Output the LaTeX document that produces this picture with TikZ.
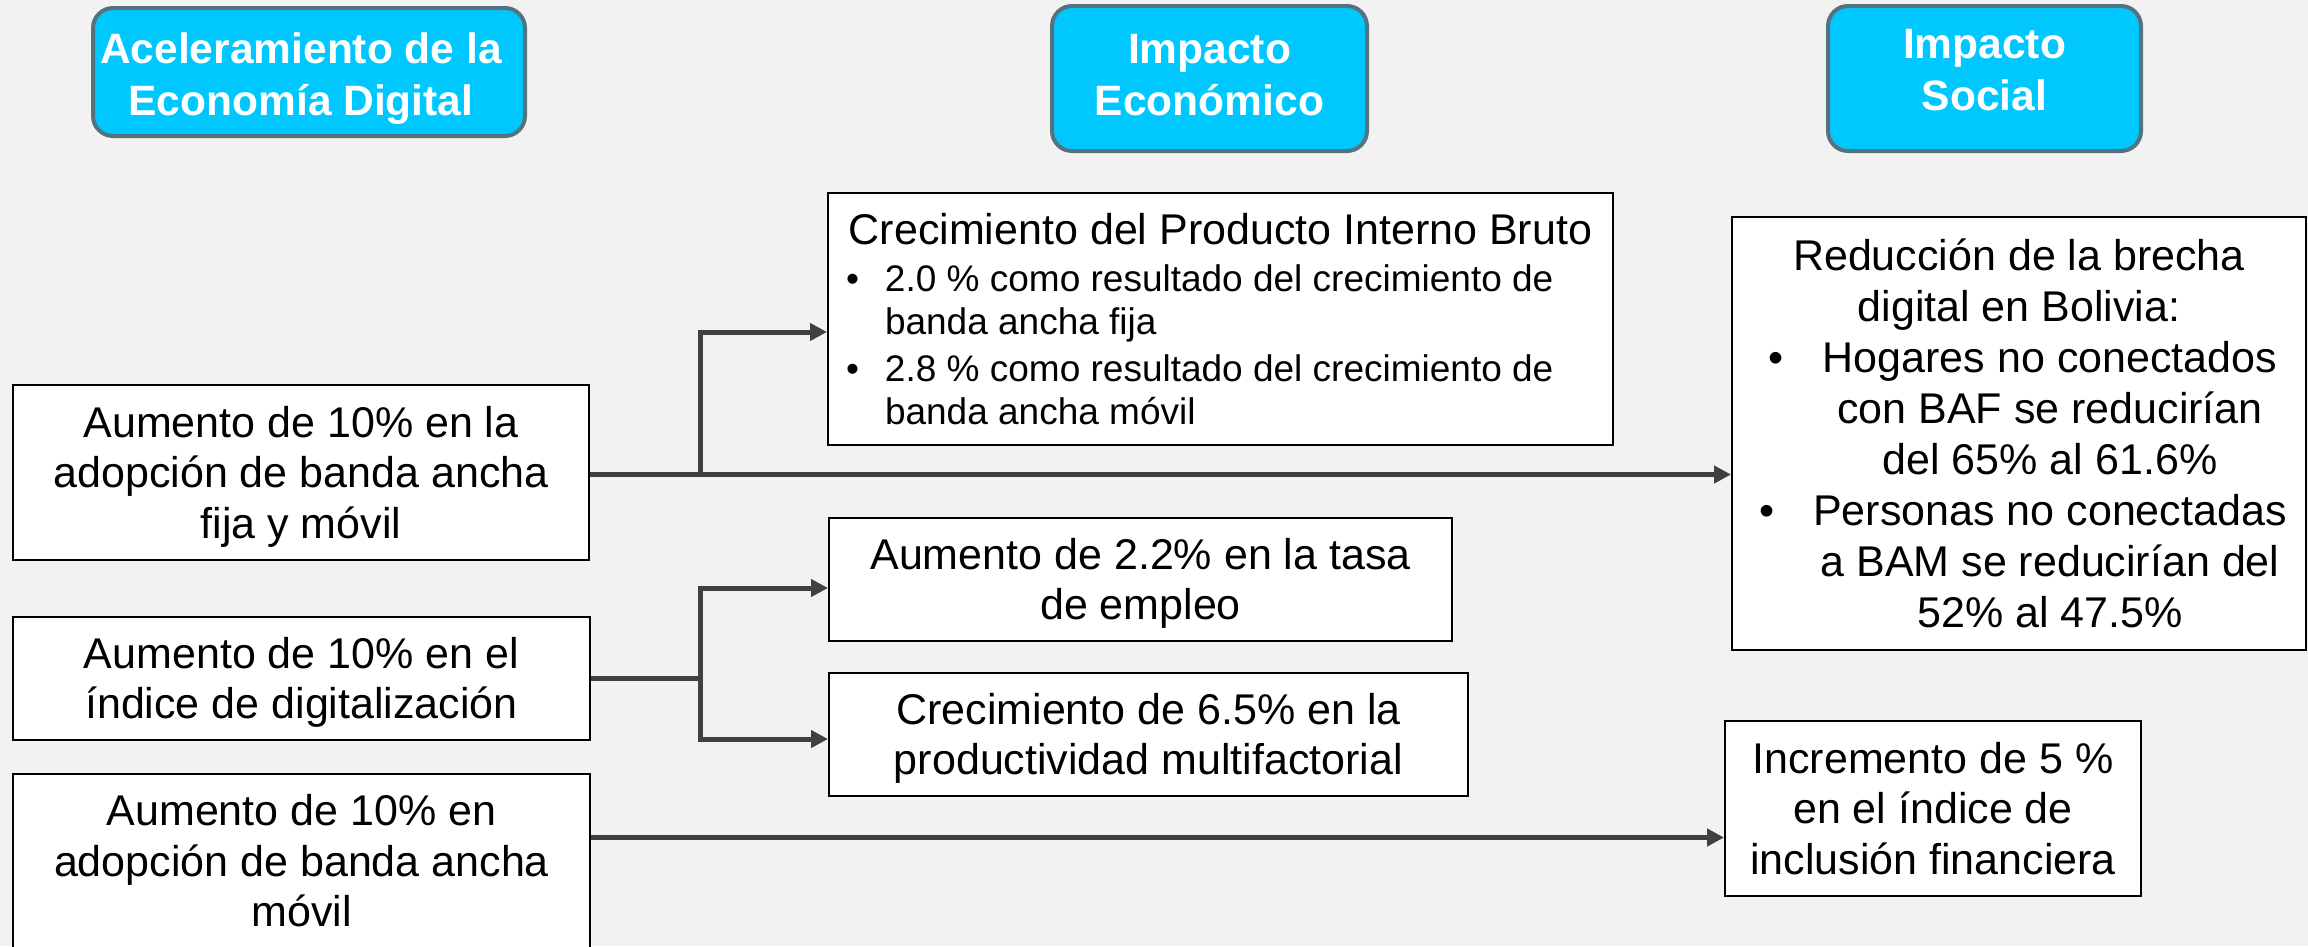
\documentclass[tikz,border=0pt]{standalone}
\usepackage{fontspec}
\setmainfont{Liberation Sans}
\usetikzlibrary{arrows.meta}
\newcommand\myT[1]{\rule{0pt}{#1pt}}
\newcommand\myB[1]{\rule[-#1pt]{0pt}{#1pt}}
\definecolor{bg}{RGB}{242,242,242}
\definecolor{hcyan}{RGB}{0,200,255}
\definecolor{hslate}{RGB}{84,115,127}
\definecolor{lgray}{RGB}{64,64,64}
\begin{document}
\begin{tikzpicture}[x=1pt,y=-1pt,
  hdr/.style={draw=hslate, line width=4pt, fill=hcyan, rounded corners=20pt, text=white,
    font=\bfseries\fontsize{42.5}{52}\selectfont, align=center, inner sep=0pt},
  bxb/.style={draw=black, line width=2pt, fill=white, inner sep=0pt,
    font=\fontsize{43}{50.5}\selectfont},
  bx/.style={bxb, align=center},
  conn/.style={draw=lgray, line width=5pt},
  arr/.style={conn, -{Triangle[length=17pt,width=17pt]}},
  darr/.style={conn, {Triangle[length=17pt,width=17pt]}-{Triangle[length=17pt,width=17pt]}}]
\useasboundingbox (0,0) rectangle (2308,946);
\fill[bg] (0,0) rectangle (2308,946);

% headers
\node[hdr, minimum width=432pt, minimum height=128pt] (h1) at (309,72)
  {\myT{43}Aceleramiento de la\hspace*{16pt}\\Economía Digital\hspace*{16pt}\myB{9}};
\node[hdr, minimum width=315pt, minimum height=145pt] (h2) at (1209.5,78.5)
  {\myT{39}Impacto\\Económico\myB{18}};
\node[hdr, minimum width=313pt, minimum height=145pt] (h3) at (1984.5,78.5)
  {\myT{39}Impacto\\Social\myB{28}};

% left column
\node[bx, minimum width=576pt, minimum height=175pt] (a1) at (301,472.5)
  {\myT{39}Aumento de 10\% en la\\adopción de banda ancha\\fija y móvil\myB{9}};
\node[bx, minimum width=577pt, minimum height=123pt] (a2) at (301.5,678.5)
  {\myT{39}Aumento de 10\% en el\\índice de digitalización\myB{9}};
\node[bx, minimum width=577pt, minimum height=174pt] (a3) at (301.5,861)
  {\myT{39}Aumento de 10\% en\\adopción de banda ancha\\móvil\myB{9}};

% middle column
\node[bxb, minimum width=785pt, minimum height=252pt] (pib) at (1220.5,319)
  {\parbox{761pt}{\centering\myT{39}Crecimiento del Producto Interno Bruto\par
   \raggedright\fontsize{37}{43}\selectfont\parskip=4pt
   \hangindent=45pt\hangafter=1\makebox[45pt][l]{\hspace{6pt}•}2.0 \% como resultado del crecimiento de\newline banda ancha fija\par
   \hangindent=45pt\hangafter=1\makebox[45pt][l]{\hspace{6pt}•}2.8 \% como resultado del crecimiento de\newline banda ancha móvil\myB{8}\par}};
\node[bx, minimum width=623pt, minimum height=123pt] (emp) at (1140.5,579.5)
  {\myT{39}Aumento de 2.2\% en la tasa\\de empleo\myB{9}};
\node[bx, minimum width=639pt, minimum height=123pt] (prod) at (1148.5,734.5)
  {\myT{39}Crecimiento de 6.5\% en la\\productividad multifactorial\myB{9}};

% right column
\node[bx, font=\fontsize{43}{51}\selectfont, minimum width=574pt, minimum height=433pt] (s1) at (2019,433.5)
  {\myT{39}Reducción de la brecha\\digital en Bolivia:\\
   \hspace*{62pt}\llap{•\hspace{39pt}}Hogares no conectados\\
   \hspace*{62pt}con BAF se reducirían\\
   \hspace*{62pt}del 65\% al 61.6\%\\
   \hspace*{62pt}\llap{•\hspace{39pt}}Personas no conectadas\\
   \hspace*{62pt}a BAM se reducirían del\\
   \hspace*{62pt}52\% al 47.5\%\myB{9}};
\node[bx, minimum width=416pt, minimum height=175pt] (fin) at (1933,808.5)
  {\myT{39}Incremento de 5 \%\\en el índice de\\inclusión financiera\myB{9}};

% connectors
\coordinate (jx) at (700.5,0);
\coordinate (a1r) at ([yshift=-2pt]a1.east);
\coordinate (pibin) at ([yshift=-13pt]pib.west);
\draw[arr] (a1r) -- (a1r -| s1.west);
\draw[arr] (a1r -| jx) |- (pibin);

\coordinate (ein) at ([yshift=-8.5pt]emp.west);
\coordinate (pin) at ([yshift=-4.5pt]prod.west);
\draw[conn] (a2.east) -- (a2.east -| jx);
\draw[darr] (ein) -| (pin -| jx) -- (pin);

\coordinate (a3r) at ([yshift=23.5pt]a3.east);
\draw[arr] (a3r) -- (a3r -| fin.west);
\end{tikzpicture}
\end{document}
